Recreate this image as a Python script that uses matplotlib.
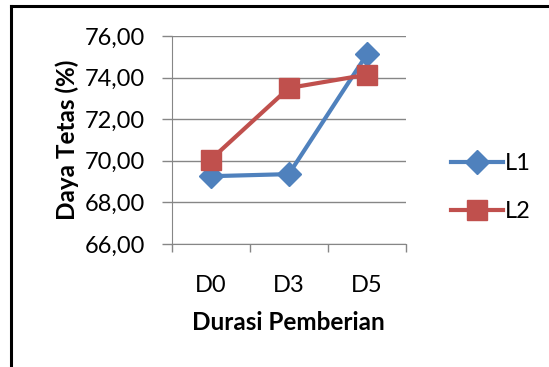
import matplotlib.pyplot as plt
from matplotlib.lines import Line2D
from matplotlib.ticker import FuncFormatter, FixedLocator

plt.rcParams['font.family'] = ['Lato', 'DejaVu Sans']

# data
categories = ["D0", "D3", "D5"]
l1 = [69.26, 69.36, 75.12]
l2 = [70.06, 73.50, 74.14]

blue = "#4F81BD"
red = "#C0504D"
grey = "#868686"

fig = plt.figure(figsize=(5.49, 3.67), dpi=100)
ax = fig.add_axes([0.3127, 0.3351, 0.4268, 0.5668])

x = list(range(len(categories)))
ax.plot(x, l1, color=blue, lw=3, marker="D", ms=12, label="L1")
ax.plot(x, l2, color=red, lw=3, marker="s", ms=14, label="L2")

ax.set_ylim(66, 76)
ax.set_xlim(-0.5, len(categories) - 0.5)
ax.set_yticks([66, 68, 70, 72, 74, 76])
ax.yaxis.set_major_formatter(FuncFormatter(lambda v, p: f"{v:.2f}".replace(".", ",")))
ax.yaxis.grid(True, color=grey, lw=1)
ax.set_axisbelow(True)

# ticks on category boundaries, labels at the centres
ax.xaxis.set_major_locator(FixedLocator([-0.5, 0.5, 1.5, 2.5]))
ax.xaxis.set_major_formatter(FuncFormatter(lambda v, p: ""))
ax.xaxis.set_minor_locator(FixedLocator(x))
ax.set_xticklabels(categories, minor=True)
ax.tick_params(axis="x", which="minor", length=0, pad=22, labelsize=17)
ax.tick_params(axis="x", which="major", length=6, color=grey, width=1)
ax.tick_params(axis="y", length=7, color=grey, width=1, pad=12, labelsize=17)

for s in ["top", "right"]:
    ax.spines[s].set_visible(False)
for s in ["left", "bottom"]:
    ax.spines[s].set_color(grey)

ax.set_ylabel("Daya Tetas (%)", fontsize=17.5, fontweight="bold", labelpad=4)
ax.set_xlabel("Durasi Pemberian", fontsize=17.5, fontweight="bold", labelpad=11)

ax.legend(loc="center left", bbox_to_anchor=(1.10, 0.27), frameon=False,
          fontsize=17, handlelength=2.2, handletextpad=0.1, labelspacing=1.15)

# outer frame (right and bottom edges fall outside the picture)
fig.add_artist(Line2D([0.02, 0.02], [0, 0.984], color="black", lw=2.2, transform=fig.transFigure))
fig.add_artist(Line2D([0.02, 1.0], [0.984, 0.984], color="black", lw=2.2, transform=fig.transFigure))

fig.savefig("out.png", dpi=100)
